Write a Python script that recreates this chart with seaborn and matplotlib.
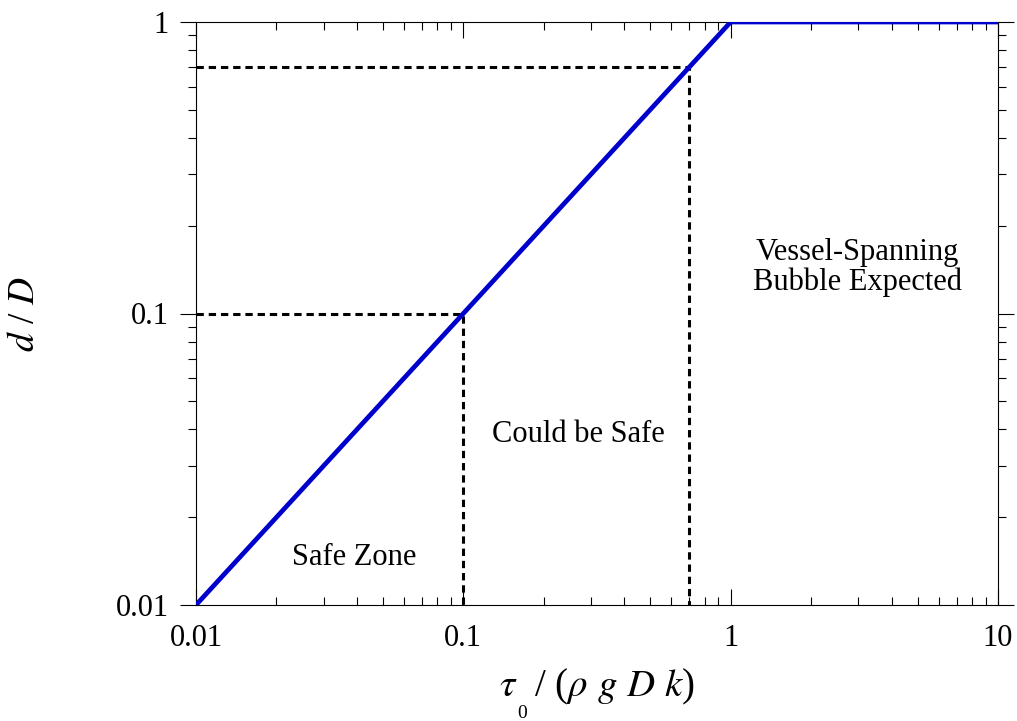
import numpy as np
import pandas as pd
import seaborn as sns
import matplotlib
matplotlib.use('Agg')
import matplotlib.pyplot as plt
from matplotlib.ticker import FixedLocator, FixedFormatter, LogLocator, NullFormatter

# Data
curve_x = [0.01, 1, 10]
curve_y = [0.01, 1, 1]
thresholds = [0.1, 0.7]
tick_values = [0.01, 0.1, 1, 10]
tick_labels = ['0.01', '0.1', '1', '10']
zone_labels = ['Safe Zone', 'Could be Safe', 'Vessel-Spanning\nBubble Expected']
zone_x = [0.039, 0.27, 2.97]
zone_y = [0.0146, 0.0383, 0.144]

sns.set_style('ticks')
plt.rcParams['font.family'] = ['Liberation Serif', 'DejaVu Serif']
plt.rcParams['mathtext.fontset'] = 'stix'
plt.rcParams['text.color'] = 'black'
plt.rcParams['axes.labelcolor'] = 'black'
plt.rcParams['xtick.color'] = 'black'
plt.rcParams['ytick.color'] = 'black'

fig = plt.figure(figsize=(10.17, 7.21), dpi=100)
ax = fig.add_axes([196 / 1017, 1 - 605 / 721, (998 - 196) / 1017, (605 - 22) / 721])

df = pd.DataFrame({'x': curve_x, 'y': curve_y})
sns.lineplot(data=df, x='x', y='y', ax=ax, color='#0000cc', linewidth=3.4,
             solid_capstyle='butt', zorder=3)

xmin, xmax = 0.01, 10
ymin, ymax = 0.01, 1
for t in thresholds:
    ax.plot([xmin, t, t], [t, t, ymin], color='black', linewidth=2.2,
            linestyle=(0, (2.4, 1.6)), zorder=2)

ax.set_xscale('log')
ax.set_yscale('log')
ax.set_xlim(xmin, xmax)
ax.set_ylim(ymin, ymax)

for axis in (ax.xaxis, ax.yaxis):
    axis.set_major_locator(FixedLocator(tick_values))
    axis.set_major_formatter(FixedFormatter(tick_labels))
    axis.set_minor_locator(LogLocator(base=10, subs=np.arange(2, 10)))
    axis.set_minor_formatter(NullFormatter())
ax.set_yticks(tick_values[:3])
ax.set_yticklabels(tick_labels[:3])

ax.tick_params(axis='x', which='both', direction='in', top=True, bottom=True,
               labelsize=22, pad=14)
ax.tick_params(axis='y', which='both', direction='out', left=True, right=True,
               labelsize=22, pad=8)
ax.tick_params(which='major', length=11.5, width=0.8)
ax.tick_params(which='minor', length=6, width=0.8)
for s in ax.spines.values():
    s.set_linewidth(0.8)
    s.set_color('black')

for label, x, y in zip(zone_labels, zone_x, zone_y):
    ax.text(x, y, label, fontsize=22, ha='center', va='center', linespacing=1.0)

ax.set_xlabel(r'$\tau$  / ($\rho$ $g$ $D$ $k$)', fontsize=28, labelpad=10)
# the subscript 0 sits well below the tau in the original
fig.text(522 / 1017, 1 - 714 / 721, '0', fontsize=14, ha='center', va='center')
ax.set_ylabel(r'$d$ / $D$', fontsize=27, labelpad=53)

fig.savefig('out.png', dpi=100)
